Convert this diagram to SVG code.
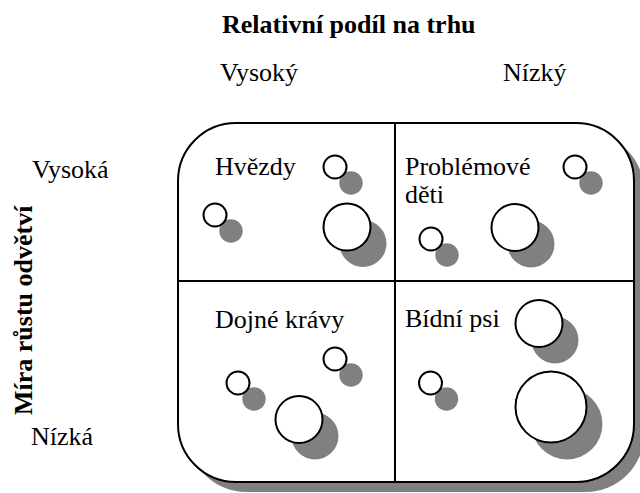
<svg xmlns="http://www.w3.org/2000/svg" width="640" height="493" viewBox="0 0 640 493">
  <style>
    .bold { font-weight: bold; }
    .frame { fill: #fff; stroke: #000; stroke-width: 2; }
    .frame-shadow { fill: #808080; }
    .divider { stroke: #000; stroke-width: 2; fill: none; }
    .bubble { fill: #fff; stroke: #000; stroke-width: 2; }
    .bubble-shadow { fill: #808080; }
  </style>
  <defs>
    <!-- bubble: grey drop shadow under a white outlined disc -->
    <g id="bubble-s">
      <circle class="bubble-shadow" cx="16" cy="16" r="11.7"/>
      <circle class="bubble" cx="0" cy="0" r="11.5"/>
    </g>
    <g id="bubble-m">
      <circle class="bubble-shadow" cx="16" cy="16.5" r="23.5"/>
      <circle class="bubble" cx="0" cy="0" r="23.5"/>
    </g>
    <g id="bubble-l">
      <circle class="bubble-shadow" cx="16" cy="17" r="35.5"/>
      <circle class="bubble" cx="0" cy="0" r="35.5"/>
    </g>
  </defs>

  <rect width="640" height="493" fill="#fff"/>

  <g font-family="Liberation Serif, Times New Roman, serif" font-size="26" fill="#000">

  <!-- axis titles and scale labels -->
  <g id="axes">
    <text class="bold" x="222" y="33">Relativní podíl na trhu</text>
    <text x="220" y="81">Vysoký</text>
    <text x="503" y="81">Nízký</text>
    <text x="32" y="178">Vysoká</text>
    <text x="31" y="445">Nízká</text>
    <text class="bold" transform="translate(32,415) rotate(-90)">Míra růstu odvětví</text>
  </g>

  <!-- matrix frame with shadow -->
  <g id="frame">
    <rect class="frame-shadow" x="188" y="133" width="456" height="359" rx="58" ry="58"/>
    <rect class="frame" x="178" y="123" width="456" height="359" rx="58" ry="58"/>
  </g>

  <g id="connectors">
    <line class="divider" x1="395" y1="123" x2="395" y2="482"/>
    <line class="divider" x1="178" y1="281" x2="634" y2="281"/>
  </g>

  <g id="q-stars">
    <text x="215" y="175">Hvězdy</text>
    <use href="#bubble-s" x="335" y="167"/>
    <use href="#bubble-s" x="215" y="215"/>
    <use href="#bubble-m" x="347" y="227"/>
  </g>

  <g id="q-question">
    <text x="405" y="175">Problémové</text>
    <text x="405" y="203">děti</text>
    <use href="#bubble-s" x="575" y="167"/>
    <use href="#bubble-m" x="515" y="227.5"/>
    <use href="#bubble-s" x="431" y="239"/>
  </g>

  <g id="q-cows">
    <text x="215" y="328">Dojné krávy</text>
    <use href="#bubble-s" x="335" y="359"/>
    <use href="#bubble-s" x="238" y="383"/>
    <use href="#bubble-m" x="299" y="419.5"/>
  </g>

  <g id="q-dogs">
    <text x="405" y="327">Bídní psi</text>
    <use href="#bubble-m" x="539" y="323.5"/>
    <use href="#bubble-s" x="430.5" y="383"/>
    <use href="#bubble-l" x="551" y="407"/>
  </g>

  </g>
</svg>
